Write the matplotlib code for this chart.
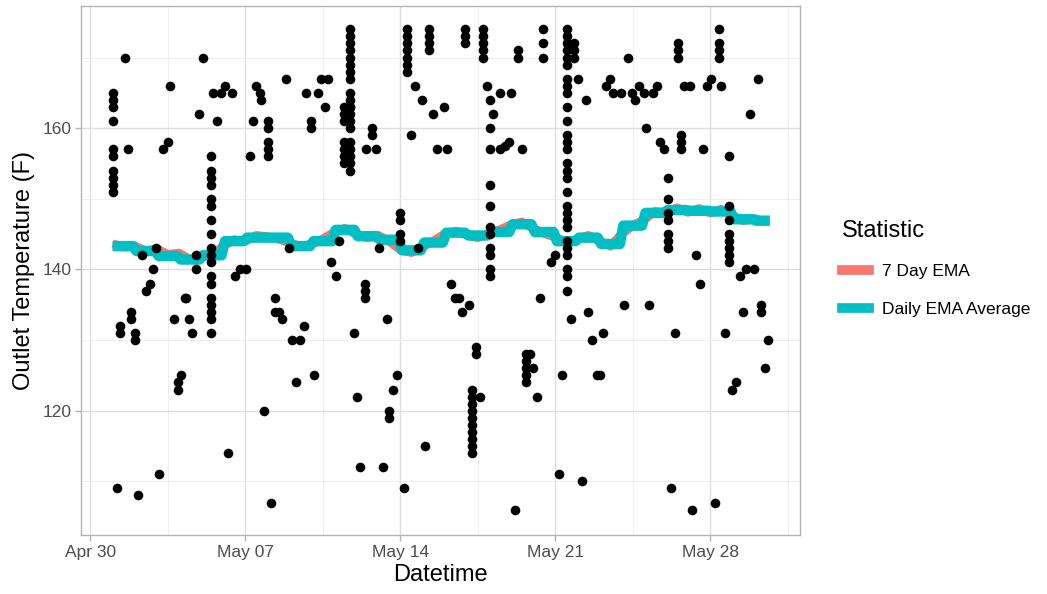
import matplotlib
matplotlib.use("Agg")
import matplotlib.pyplot as plt
import matplotlib.dates as mdates
from matplotlib.lines import Line2D
import pandas as pd

#------------DATOS------------------#
start = pd.Timestamp("2023-04-30")

# observed outlet temperatures: day offset from Apr 30 -> readings at that time
obs_day = [1.01, 1.54, 1.69, 1.34, 1.84, 2.0, 1.19, 2.16, 3.12, 2.97, 2.33, 2.82, 2.67, 2.52,
           3.6, 3.3, 3.5, 4.1, 3.95, 4.27, 3.79, 4.45, 4.6, 4.75, 4.3, 4.9, 5.08,
           5.53, 5.91, 6.06, 6.39, 5.73, 5.43, 6.23, 6.53, 6.74, 7.04,
           7.35, 7.2, 7.5, 7.65, 7.7, 8.02, 7.84, 8.16, 8.34, 8.5, 8.66, 9.64,
           9.12, 9.46, 9.3, 10.12, 8.82, 8.97, 9.76, 10.29, 9.95, 10.59, 10.44, 10.74,
           10.85, 11.09, 11.24, 11.72, 11.45, 11.9, 12.05, 12.4, 12.2, 13.2, 12.47, 12.9, 12.7,
           13.05, 13.38, 13.5, 13.68, 13.83, 13.98, 14.16, 14.31, 14.48, 14.66, 14.8, 14.99,
           15.13, 15.31, 15.46, 15.64, 15.97, 16.09, 16.29, 16.47, 16.67, 16.77, 17.1,
           16.92, 17.24, 17.42, 17.6, 17.72, 17.9, 18.2, 18.5, 19.0, 18.05, 18.73, 18.9, 19.5,
           19.2, 19.34, 19.7, 19.85, 19.68, 20.0, 20.17, 20.3, 20.47, 20.8, 21.0, 21.15, 21.3,
           21.55, 21.85, 22.05, 22.38, 21.7, 22.2, 22.5, 22.68, 23.15, 22.88, 23.03,
           23.3, 23.48, 23.63, 23.97, 24.13, 24.28, 24.46, 24.62, 24.8, 25.0, 25.44, 25.6,
           25.1, 25.26, 25.75, 25.93, 26.08, 26.24, 26.4, 26.57, 26.7, 26.8, 27.1, 27.2,
           27.37, 27.56, 27.67, 27.85, 28.03, 28.49, 28.2, 28.4, 28.69, 28.84, 29.0, 29.17,
           29.34, 29.5, 29.64, 30.0, 29.8, 30.15, 30.3, 30.47, 30.6]
obs_temp = [[165, 164, 163, 161, 157, 156, 154, 153, 152, 151], [170], [157], [132, 131], [134, 133],
            [131, 130], [109], [108], [111], [143], [142], [140], [138], [137],
            [166], [157], [158], [125], [124, 123], [136], [133], [133], [131], [142, 140], [136],
            [162], [170],
            [165], [165], [166], [165], [161],
            [156, 154, 153, 152, 150, 149, 147, 145, 143, 142, 141, 139, 138, 136, 135, 134, 133, 131],
            [114], [139], [140], [140],
            [161], [156], [166], [165], [164], [161, 160, 158, 157, 156], [120], [107],
            [136, 134], [134], [133], [132],
            [130], [130], [124], [125], [167], [143], [165], [165], [161, 160], [163], [167], [167],
            [141], [139], [144],
            [174, 173, 172, 171, 170, 169, 168, 167, 165, 164, 163, 163, 162, 161, 160, 158, 157,
             156, 155, 154],
            [163, 162, 161, 158, 157, 156, 155], [131], [122], [138, 137, 136], [112], [112],
            [157], [157], [160, 159],
            [143], [133], [120, 119], [123], [125], [148, 147, 145, 144], [109],
            [174, 173, 172, 171, 170, 169, 168], [159], [166], [143], [164],
            [115], [174, 173, 172, 171], [162], [157], [163], [157], [138], [136], [136], [134], [135],
            [174, 173, 172], [123, 122, 121, 120, 119, 118, 117, 116, 115, 114], [129, 128], [122],
            [174, 173, 172, 171, 170], [166], [162], [165, 157], [165],
            [164, 160, 157, 152, 149, 146, 145, 143, 142, 140, 139], [157.5], [158], [157],
            [106], [171, 170], [128, 126, 125], [128], [127, 124], [126], [122], [136],
            [174, 172, 170], [141], [142], [111], [125],
            [174, 173, 172, 171, 170, 169, 167, 166, 165, 163, 161, 159, 158, 157, 155, 154, 153,
             151, 149, 148, 147, 146, 144, 143, 142, 140, 139, 137],
            [172, 171, 170], [167], [164], [133], [110], [134], [130], [131], [125], [125],
            [166], [167], [165], [165], [135], [170], [165], [164], [166], [165], [165], [166],
            [160], [135], [158], [157], [153, 150, 148, 147, 145, 144, 143], [109], [131],
            [172, 171, 170], [159, 158, 157], [166], [166], [106],
            [142], [138], [157], [166], [167], [166], [107], [174, 172, 171, 170], [131],
            [156, 149, 147, 145, 144, 143, 142, 141], [123], [124],
            [139], [134], [140], [140], [162], [167], [135, 134], [126], [130]]

# daily EMA average (one value per day, starting May 1)
daily_start = 1
daily_ema = [143.3, 142.6, 141.9, 141.4, 142.0, 144.0, 144.5, 144.5, 143.3, 144.0,
             145.6, 144.7, 144.2, 142.7, 143.8, 145.2, 144.8, 145.3, 146.4, 145.3,
             144.0, 144.5, 143.6, 146.2, 148.0, 148.4, 148.3, 148.2, 147.1, 146.9]

# 7 day EMA, read every half day from day 1.0
ema7_start = 1.0
ema7 = [143.6, 143.2, 143.3, 142.6, 142.9, 142.1, 142.3, 141.4, 141.8, 142.0,
        143.3, 144.2, 144.0, 144.8, 144.6, 144.3, 143.8, 143.2, 143.6, 144.3,
        145.2, 145.8, 145.0, 144.5, 144.8, 144.0, 142.8, 142.4, 143.2, 144.0,
        145.0, 145.4, 144.9, 144.5, 145.0, 145.6, 146.3, 146.7, 145.8, 145.1,
        144.6, 143.8, 144.3, 144.8, 144.0, 143.3, 145.0, 146.2, 147.0, 148.2,
        148.0, 148.7, 148.1, 148.6, 148.0, 148.5, 147.6, 146.9, 147.2, 146.7]

tick_days = [0, 7, 14, 21, 28]

#------------CODIGO------------------#
plt.rcParams["font.family"] = ["Liberation Sans", "DejaVu Sans"]

def to_date(d):
    return start + pd.to_timedelta(d, unit="D")

px, py = [], []
for d, temps in zip(obs_day, obs_temp):
    for t in temps:
        px.append(to_date(d))
        py.append(t)

# daily steps: flat over each day with short ramps between
dx, dy = [], []
for i, v in enumerate(daily_ema):
    d0 = daily_start + i
    dx += [to_date(d0 + 0.08), to_date(d0 + 0.92)]
    dy += [v, v]
dx[0] = to_date(daily_start)
dx[-1] = to_date(daily_start + len(daily_ema) - 0.3)

ex = [to_date(ema7_start + 0.5 * i) for i in range(len(ema7))]

fig = plt.figure(figsize=(10.47, 5.94), dpi=100)
ax = fig.add_axes([0.0775, 0.0993, 0.687, 0.8907])

ax.set_facecolor("white")
for s in ax.spines.values():
    s.set_color("#B3B3B3")
    s.set_linewidth(1.0)

ax.plot(ex, ema7, color="#F8766D", lw=6.5, solid_capstyle="butt", zorder=2)
ax.plot(dx, dy, color="#00BFC4", lw=7.5, solid_capstyle="butt", zorder=3)
ax.scatter(px, py, s=48, color="black", linewidths=0, zorder=4)

ax.set_xlim(to_date(-0.42), to_date(32.08))
ax.set_ylim(102.4, 177.3)
ax.set_xticks([to_date(d) for d in tick_days])
ax.xaxis.set_major_formatter(mdates.DateFormatter("%b %d"))
ax.set_xticks([to_date(d + 3.5) for d in tick_days], minor=True)
ax.set_yticks([120, 140, 160])
ax.set_yticks([110, 130, 150, 170], minor=True)
ax.grid(True, which="major", color="#DEDEDE", lw=1.0)
ax.grid(True, which="minor", color="#EBEBEB", lw=0.6)
ax.set_axisbelow(True)
ax.tick_params(which="major", color="#B3B3B3", length=4, width=1.0, labelsize=12.5,
               labelcolor="#4D4D4D", pad=3)
ax.tick_params(which="minor", length=0)

ax.set_xlabel("Datetime", fontsize=17, labelpad=3)
ax.set_ylabel("Outlet Temperature (F)", fontsize=17, labelpad=5)

handles = [Line2D([], [], color="#F8766D", lw=7),
           Line2D([], [], color="#00BFC4", lw=7)]
leg = fig.legend(handles, ["7 Day EMA", "Daily EMA Average"], title="Statistic",
                 loc="center left", bbox_to_anchor=(0.789, 0.548), frameon=False,
                 fontsize=12.5, title_fontsize=17, handlelength=1.6,
                 labelspacing=1.3, handletextpad=0.7)
leg._legend_box.align = "left"

plt.savefig("out.png", dpi=100)
